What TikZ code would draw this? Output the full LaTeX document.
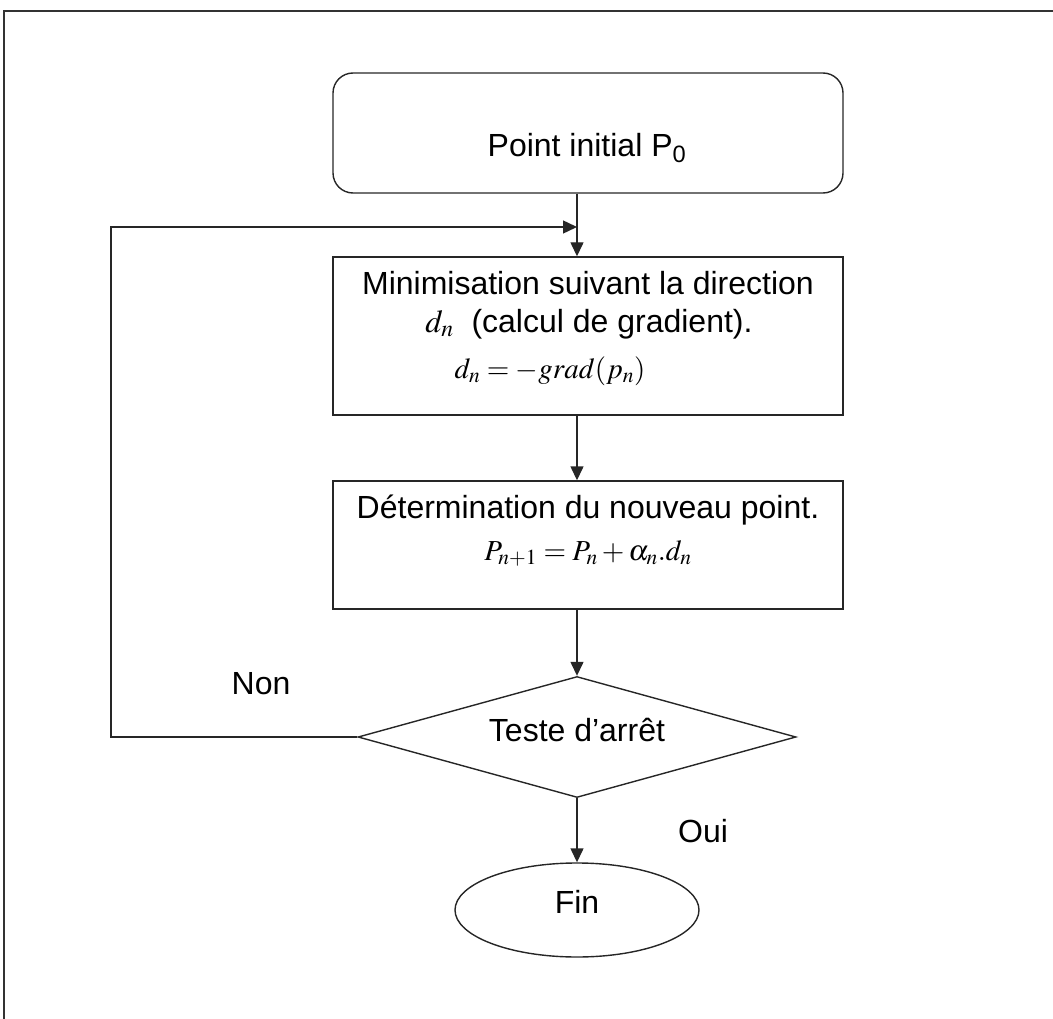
\documentclass[tikz,border=0pt]{standalone}
\usepackage{mathptmx}
\usepackage[no-math]{fontspec}
\setmainfont{Liberation Sans}
\usetikzlibrary{shapes.geometric,arrows.meta}

\begin{document}
\begin{tikzpicture}[x=1pt,y=-1pt,
  every node/.style={font=\fontsize{32}{38}\selectfont},
  boite/.style={draw=black!85,line width=1.4pt,inner sep=0pt,minimum width=510pt},
  texte/.style={anchor=base,inner sep=0pt},
  eq/.style={texte,font=\fontsize{29}{34}\selectfont},
  fleche/.style={draw=black!85,line width=1.4pt,-{Triangle[length=14pt,width=13pt]}}]
\useasboundingbox (0,0) rectangle (1053,1019);
% cadre
\draw[black!80,line width=2pt] (4,1019) -- (4,11) -- (1053,11);
% formes
\node[boite,rounded corners=20pt,minimum height=120pt] (debut) at (588,133) {};
\node[boite,minimum height=158pt] (minim) at (588,336) {};
\node[boite,minimum height=128pt] (determ) at (588,545) {};
\node[boite,diamond,minimum width=438pt,minimum height=121pt] (test) at (577,737) {};
\node[boite,ellipse,minimum width=244pt,minimum height=94pt] (fin) at (577,910) {};
% textes
\node[texte] (t0) at (587,157) {Point initial P\textsubscript{0}};
\node[texte] (t1) at (588,295) {Minimisation suivant la direction};
\node[texte] (t2) at (589,332) {$d_n$\ \ (calcul de gradient).};
\node[eq] (t3) at (550,378) {$d_n=-grad(p_n)$};
\node[texte] (t4) at (588,518) {Détermination du nouveau point.};
\node[eq] (t5) at (588,560) {$P_{n+1}=P_n+\alpha_n.d_n$};
\node[texte] (t6) at (577,741) {Teste d’arrêt};
\node[texte] (non) at (261,694) {Non};
\node[texte] (oui) at (703,842) {Oui};
\node[texte] (t7) at (577,913) {Fin};
% fleches
\coordinate (axe) at (577,0);
\coordinate (coin) at (111,0);
\coordinate (retour) at (577,227);
\draw[fleche] (debut.south -| axe) -- (minim.north -| axe);
\draw[fleche] (test.west) -- (test.west -| coin) |- (retour);
\draw[fleche] (minim.south -| axe) -- (determ.north -| axe);
\draw[fleche] (determ.south -| axe) -- (test.north);
\draw[fleche] (test.south) -- (fin.north);
\end{tikzpicture}
\end{document}
